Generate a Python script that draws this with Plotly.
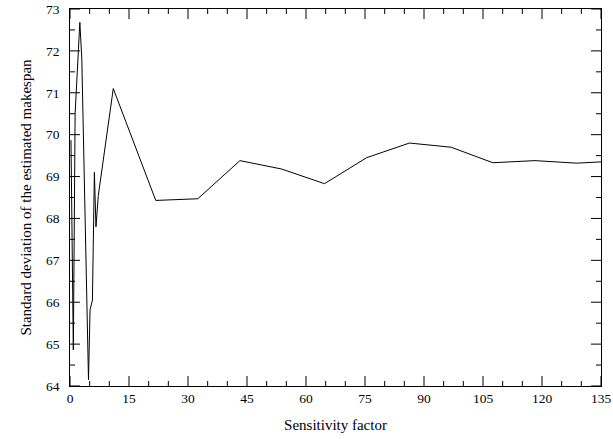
import plotly.graph_objects as go

sensitivity = [0.25, 0.85, 1.3, 2.5, 3.0, 4.7, 5.1, 5.7, 6.2, 6.6, 7.2, 11.0,
               21.8, 32.5, 43.2, 53.8, 64.7, 75.4, 86.3, 96.9, 107.5, 118.2, 128.8, 135.0]
std_makespan = [69.87, 64.86, 70.5, 72.68, 71.82, 64.15, 65.82, 66.05, 69.1, 67.8, 68.55, 71.1,
                68.43, 68.47, 69.38, 69.18, 68.83, 69.45, 69.8, 69.7, 69.33, 69.38, 69.32, 69.35]

x_ticks = [0, 15, 30, 45, 60, 75, 90, 105, 120, 135]
y_ticks = [64, 65, 66, 67, 68, 69, 70, 71, 72, 73]
x_minor = [v + 5 * k for v in x_ticks[:-1] for k in (1, 2)]
y_minor = [v + 0.5 for v in y_ticks[:-1]]

fig = go.Figure()
fig.add_trace(go.Scatter(x=sensitivity, y=std_makespan, mode="lines",
                         line=dict(color="black", width=1), showlegend=False))

font = dict(family="Liberation Serif, Times New Roman, serif", color="black")

axis_common = dict(showgrid=False, zeroline=False, showline=True, linecolor="black",
                   linewidth=1, mirror=True, ticks="",
                   tickfont=dict(size=13.5, **font), automargin=False)

fig.update_xaxes(range=[0, 135], tickvals=x_ticks, ticktext=[str(v) for v in x_ticks],
                 title=dict(text="Sensitivity factor", font=dict(size=15, **font), standoff=14),
                 **axis_common)
fig.update_yaxes(range=[64, 73], tickvals=y_ticks, ticktext=[str(v) + "  " for v in y_ticks],
                 title=dict(text="Standard deviation of the estimated makespan",
                            font=dict(size=15, **font), standoff=10),
                 **axis_common)

tick_line = dict(color="black", width=1)
# inward tick marks on all four sides, placed through the axes' own scales
for vals, length in ((x_ticks, 10), (x_minor, 5)):
    for v in vals:
        fig.add_shape(type="line", xref="x", yref="paper", x0=v, x1=v,
                      ysizemode="pixel", yanchor=0, y0=0, y1=length, line=tick_line)
        fig.add_shape(type="line", xref="x", yref="paper", x0=v, x1=v,
                      ysizemode="pixel", yanchor=1, y0=0, y1=-length, line=tick_line)
for vals, length in ((y_ticks, 10), (y_minor, 5)):
    for v in vals:
        fig.add_shape(type="line", yref="y", xref="paper", y0=v, y1=v,
                      xsizemode="pixel", xanchor=0, x0=0, x1=length, line=tick_line)
        fig.add_shape(type="line", yref="y", xref="paper", y0=v, y1=v,
                      xsizemode="pixel", xanchor=1, x0=0, x1=-length, line=tick_line)

fig.update_layout(width=613, height=439, margin=dict(l=70, r=12, t=9, b=53),
                  plot_bgcolor="white", paper_bgcolor="white", font=font)

post = (
    "var gd=document.getElementById('{plot_id}');"
    "gd.style.position='absolute'; gd.style.left='0px'; gd.style.top='0px';"
)
fig.write_html("out.html", config={"displayModeBar": False}, post_script=post)
